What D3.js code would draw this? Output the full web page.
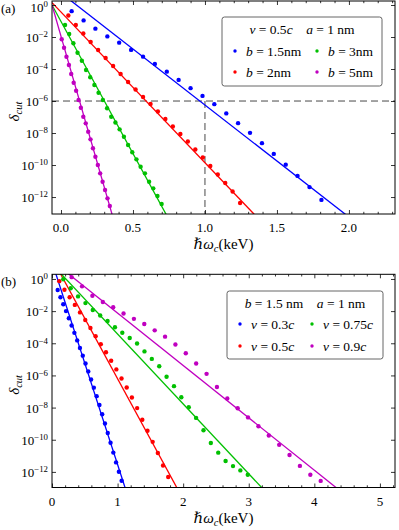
<!DOCTYPE html>
<html><head><meta charset="utf-8">
<script src="https://cdn.jsdelivr.net/npm/d3@7"></script>
<style>
body{margin:0;background:#fff}
svg{display:block}
text{font-family:"Liberation Serif","DejaVu Serif",serif;fill:#000}
</style>
</head><body>
<svg id="chart" width="399" height="530"></svg>
<script>
// ---------- Panel (a): v = 0.5c, a = 1 nm ----------
const aXTicks = [0, 0.5, 1.0, 1.5, 2.0];
const aXTickLabels = ["0.0", "0.5", "1.0", "1.5", "2.0"];
const aXMinor = [0.1,0.2,0.3,0.4,0.6,0.7,0.8,0.9,1.1,1.2,1.3,1.4,1.6,1.7,1.8,1.9,2.1,2.2,2.3];
const yTickExps = [0, -2, -4, -6, -8, -10, -12];
const aLegendTitle = [["v",1],[" = 0.5",0],["c",1],["    ",0],["a",1],[" = 1 nm",0]];
const aLegendLabels = [
  [["b",1],[" = 1.5nm",0]],
  [["b",1],[" = 2nm",0]],
  [["b",1],[" = 3nm",0]],
  [["b",1],[" = 5nm",0]]
];
// dots (x in keV, log10 of delta_cut)
const aBlueX = [0.074,0.157,0.239,0.322,0.404,0.487,0.570,0.652,0.735,0.817,0.900,0.983,1.065,1.148,1.230,1.313,1.396,1.478,1.561,1.643,1.726,1.809];
const aBlueLog = [-0.385,-0.963,-1.479,-1.963,-2.353,-2.806,-3.228,-3.681,-4.165,-4.681,-5.196,-5.68,-6.196,-6.774,-7.383,-7.99,-8.633,-9.305,-9.977,-10.68,-11.38,-12.18];
const aRedX = [0.051,0.103,0.155,0.206,0.258,0.310,0.362,0.414,0.466,0.518,0.570,0.622,0.673,0.725,0.777,0.829,0.881,0.933,0.985,1.037,1.089,1.141,1.192,1.244];
const aRedLog = [-0.656,-1.25,-1.781,-2.3125,-2.8125,-3.3125,-3.8125,-4.3125,-4.8125,-5.281,-5.75,-6.1875,-6.656,-7.125,-7.594,-8.0625,-8.531,-9.031,-9.531,-10.0625,-10.594,-11.125,-11.656,-12.375];
const aGreenX = [0.028,0.057,0.086,0.115,0.145,0.174,0.203,0.232,0.261,0.291,0.320,0.349,0.378,0.407,0.437,0.466,0.495,0.524,0.553,0.583,0.612,0.641,0.670,0.699];
const aGreenLog = [-1.25,-1.8125,-2.394,-2.981,-3.481,-4.0625,-4.519,-5.0,-5.481,-5.9375,-6.456,-6.981,-7.344,-7.769,-8.231,-8.75,-9.206,-9.644,-10.106,-10.519,-11.044,-11.456,-11.9375,-12.4375];
const aMagX = [0.005,0.021,0.038,0.055,0.071,0.088,0.105,0.122,0.138,0.155,0.172,0.189,0.205,0.222,0.239,0.256,0.272,0.289,0.306,0.323,0.339];
const aMagLog = [-2.144,-2.669,-3.231,-3.75,-4.3125,-4.856,-5.356,-5.9375,-6.419,-6.981,-7.394,-7.919,-8.394,-8.956,-9.481,-10.0,-10.519,-11.044,-11.5625,-12.081,-12.56];
// fitted lines (end points, x in keV, log10 delta)
const aBlueLineX = [0, 2.0],       aBlueLineLog = [0.75, -13.25];
const aRedLineX = [-0.0625, 1.342], aRedLineLog = [0.15, -13.08];
const aGreenLineX = [-0.0625, 0.75], aGreenLineLog = [0, -13.41];
const aMagLineX = [-0.0625, 0.37],  aMagLineLog = [0, -13.56];
const aCutX = 1.0, aCutLog = -6;

// ---------- Panel (b): b = 1.5 nm, a = 1 nm ----------
const bXTicks = [0, 1, 2, 3, 4, 5];
const bXTickLabels = ["0", "1", "2", "3", "4", "5"];
const bXMinor = [0.2,0.4,0.6,0.8,1.2,1.4,1.6,1.8,2.2,2.4,2.6,2.8,3.2,3.4,3.6,3.8,4.2,4.4,4.6,4.8,5.2];
const bLegendTitle = [["b",1],[" = 1.5 nm",0],["    ",0],["a",1],[" = 1 nm",0]];
const bLegendLabels = [
  [["v",1],[" = 0.3",0],["c",1]],
  [["v",1],[" = 0.5",0],["c",1]],
  [["v",1],[" = 0.75",0],["c",1]],
  [["v",1],[" = 0.9",0],["c",1]]
];
const bBlueX = [0.087,0.129,0.172,0.214,0.257,0.299,0.341,0.384,0.426,0.469,0.511,0.553,0.596,0.638,0.681,0.723,0.765,0.808,0.850,0.893,0.935,0.977,1.020,1.062];
const bBlueLog = [-0.69,-1.14,-1.57,-2.0,-2.44,-2.89,-3.35,-3.82,-4.29,-4.77,-5.26,-5.75,-6.25,-6.76,-7.29,-7.84,-8.41,-8.99,-9.58,-10.19,-10.8,-11.41,-11.99,-12.55];
const bRedX = [0.111,0.190,0.269,0.348,0.427,0.507,0.586,0.665,0.744,0.823,0.902,0.981,1.060,1.139,1.218,1.298,1.377,1.456,1.535,1.614,1.693,1.772];
const bRedLog = [-0.137,-0.673,-1.14,-1.614,-2.081,-2.555,-3.053,-3.558,-4.062,-4.561,-5.09,-5.626,-6.187,-6.754,-7.377,-8.031,-8.754,-9.445,-10.131,-10.822,-11.601,-12.318];
const bGreenX = [0.172,0.285,0.397,0.510,0.622,0.735,0.847,0.960,1.072,1.185,1.297,1.410,1.522,1.635,1.747,1.860,1.972,2.085,2.197,2.310,2.422,2.535,2.647,2.760,2.872,2.985];
const bGreenLog = [-0.019,-0.579,-1.084,-1.502,-1.931,-2.274,-2.611,-3.003,-3.346,-3.676,-4.012,-4.505,-4.972,-5.433,-6.081,-6.667,-7.358,-7.981,-8.642,-9.408,-10.199,-10.804,-11.321,-11.639,-11.907,-12.174];
const bMagX = [0.300,0.458,0.616,0.775,0.933,1.091,1.249,1.407,1.566,1.724,1.882,2.040,2.198,2.357,2.515,2.673,2.831,2.989,3.148,3.306,3.464,3.622,3.780,3.939,4.097];
const bMagLog = [0.112,-0.461,-1.041,-1.433,-1.757,-2.150,-2.480,-2.804,-3.196,-3.589,-4.075,-4.617,-5.259,-5.900,-6.723,-7.427,-8.037,-8.610,-9.159,-9.738,-10.318,-10.953,-11.626,-12.174,-12.561];
const bBlueLineX = [0, 1.15],  bBlueLineLog = [1.06, -13.43];
const bRedLineX = [0, 1.95],   bRedLineLog = [1.295, -13.33];
const bGreenLineX = [0, 3.25], bGreenLineLog = [0.92, -13.20];
const bMagLineX = [0, 4.4],    bMagLineLog = [1.134, -13.197];

const colors = ["#0000ff", "#ff0000", "#00c000", "#c000c0"];

const svg = d3.select("#chart");

function mathText(sel, parts) {
  parts.forEach(([t, it]) => {
    sel.append("tspan").attr("font-style", it ? "italic" : "normal").text(t);
  });
}

function panel(cfg, idx) {
  const L = 52, R = 395, T = cfg.top, B = cfg.bottom;
  const x = d3.scaleLinear().domain(cfg.xDom).range([L, R]);
  const y = d3.scaleLog().domain([Math.pow(10, cfg.yLo), Math.pow(10, cfg.yHi)]).range([B, T]);
  const g = svg.append("g");
  const clipId = "clip" + idx;
  g.append("clipPath").attr("id", clipId).append("rect")
    .attr("x", L).attr("y", T).attr("width", R - L).attr("height", B - T);

  const plot = g.append("g").attr("clip-path", `url(#${clipId})`);

  if (cfg.cut) {
    plot.append("line")
      .attr("x1", L).attr("x2", R)
      .attr("y1", y(Math.pow(10, cfg.cut.log))).attr("y2", y(Math.pow(10, cfg.cut.log)))
      .attr("stroke", "#333").attr("stroke-width", 0.9).attr("stroke-dasharray", "7,4");
    plot.append("line")
      .attr("x1", x(cfg.cut.x)).attr("x2", x(cfg.cut.x))
      .attr("y1", y(Math.pow(10, cfg.cut.log))).attr("y2", B)
      .attr("stroke", "#333").attr("stroke-width", 0.9).attr("stroke-dasharray", "7,4");
  }

  const line = d3.line().x(d => x(d[0])).y(d => y(Math.pow(10, d[1])));
  cfg.series.forEach((s, i) => {
    plot.append("path")
      .datum(d3.zip(s.lx, s.ll))
      .attr("d", line).attr("fill", "none")
      .attr("stroke", colors[i]).attr("stroke-width", 1.3);
  });
  cfg.series.forEach((s, i) => {
    plot.selectAll(null).data(d3.zip(s.x, s.l)).enter().append("circle")
      .attr("cx", d => x(d[0])).attr("cy", d => y(Math.pow(10, d[1])))
      .attr("r", 2.2).attr("fill", colors[i]);
  });

  // axes (ticks inward on all sides)
  const tickStyle = sel => {
    sel.select(".domain").remove();
    sel.selectAll(".tick line").attr("stroke", "#000").attr("stroke-width", 0.8);
  };
  g.append("g").attr("transform", `translate(0,${B})`)
    .call(d3.axisBottom(x).tickValues(cfg.xTicks).tickSize(-4).tickFormat("")).call(tickStyle);
  g.append("g").attr("transform", `translate(0,${B})`)
    .call(d3.axisBottom(x).tickValues(cfg.xMinor).tickSize(-2.2).tickFormat("")).call(tickStyle);
  g.append("g").attr("transform", `translate(0,${T})`)
    .call(d3.axisTop(x).tickValues(cfg.xTicks).tickSize(-4).tickFormat("")).call(tickStyle);
  g.append("g").attr("transform", `translate(0,${T})`)
    .call(d3.axisTop(x).tickValues(cfg.xMinor).tickSize(-2.2).tickFormat("")).call(tickStyle);
  const yTickVals = yTickExps.map(e => Math.pow(10, e));
  g.append("g").attr("transform", `translate(${L},0)`)
    .call(d3.axisLeft(y).tickValues(yTickVals).tickSize(-4).tickFormat("")).call(tickStyle);
  g.append("g").attr("transform", `translate(${R},0)`)
    .call(d3.axisRight(y).tickValues(yTickVals).tickSize(-4).tickFormat("")).call(tickStyle);

  g.append("rect").attr("x", L).attr("y", T).attr("width", R - L).attr("height", B - T)
    .attr("fill", "none").attr("stroke", "#000").attr("stroke-width", 1);

  // tick labels
  cfg.xTicks.forEach((v, i) => {
    g.append("text").attr("x", x(v)).attr("y", B + 18).attr("text-anchor", "middle")
      .attr("font-size", 13).text(cfg.xTickLabels[i]);
  });
  yTickExps.forEach(e => {
    const base = Math.max(y(Math.pow(10, e)) + 5, 11.5);
    const t = g.append("text").attr("x", L - 4).attr("y", base)
      .attr("text-anchor", "end").attr("font-size", 13);
    t.append("tspan").text("10");
    t.append("tspan").attr("dy", -4.6).attr("font-size", 8.8).text(e === 0 ? "0" : "\u2212" + Math.abs(e));
  });

  // axis titles
  const xl = g.append("text").attr("x", (L + R) / 2).attr("y", B + 35)
    .attr("text-anchor", "middle").attr("font-size", 15);
  xl.append("tspan").text("\u210F");
  xl.append("tspan").attr("font-style", "italic").text("\u03C9");
  xl.append("tspan").attr("font-style", "italic").attr("font-size", 10.5).attr("dy", 3).text("c");
  xl.append("tspan").attr("dy", -3).text("(keV)");

  const yl = g.append("text")
    .attr("transform", `translate(${19},${(T + B) / 2 + 4}) rotate(-90)`)
    .attr("text-anchor", "middle").attr("font-size", 15);
  yl.append("tspan").attr("font-style", "italic").text("\u03B4");
  yl.append("tspan").attr("font-style", "italic").attr("font-size", 10.5).attr("dy", 3).text("cut");

  g.append("text").attr("x", 1).attr("y", T + 12).attr("font-size", 13).text(cfg.tag);

  // legend
  const lg = cfg.legend;
  g.append("rect").attr("x", lg.x).attr("y", lg.y).attr("width", lg.w).attr("height", lg.h)
    .attr("rx", 2.5).attr("fill", "#fff").attr("stroke", "#555").attr("stroke-width", 0.9);
  mathText(g.append("text").attr("x", lg.x + lg.w / 2).attr("y", lg.y + 17)
    .attr("text-anchor", "middle").attr("font-size", 13.5).attr("xml:space", "preserve"), lg.title);
  lg.labels.forEach((parts, i) => {
    const col = i < 2 ? 0 : 1;
    const row = i % 2;
    const mx = lg.x + lg.markerX[col];
    const my = lg.y + lg.rowY[row];
    g.append("circle").attr("cx", mx).attr("cy", my).attr("r", 1.7).attr("fill", colors[i]);
    mathText(g.append("text").attr("x", mx + 11).attr("y", my + 4.5).attr("font-size", 13.5), parts);
  });
}

// order of entries: col1 = blue, red ; col2 = green, magenta
panel({
  top: 1, bottom: 214, xDom: [-0.0625, 2.32], yLo: -13.06, yHi: 0.25,
  xTicks: aXTicks, xTickLabels: aXTickLabels, xMinor: aXMinor, tag: "(a)",
  cut: {x: aCutX, log: aCutLog},
  series: [
    {x: aBlueX, l: aBlueLog, lx: aBlueLineX, ll: aBlueLineLog},
    {x: aRedX, l: aRedLog, lx: aRedLineX, ll: aRedLineLog},
    {x: aGreenX, l: aGreenLog, lx: aGreenLineX, ll: aGreenLineLog},
    {x: aMagX, l: aMagLog, lx: aMagLineX, ll: aMagLineLog}
  ],
  legend: {x: 222, y: 17, w: 160, h: 69, title: aLegendTitle,
           labels: aLegendLabels, markerX: [13, 95], rowY: [34, 55]}
}, 0);

panel({
  top: 274.3, bottom: 487.5, xDom: [0, 5.23], yLo: -12.97, yHi: 0.29,
  xTicks: bXTicks, xTickLabels: bXTickLabels, xMinor: bXMinor, tag: "(b)",
  series: [
    {x: bBlueX, l: bBlueLog, lx: bBlueLineX, ll: bBlueLineLog},
    {x: bRedX, l: bRedLog, lx: bRedLineX, ll: bRedLineLog},
    {x: bGreenX, l: bGreenLog, lx: bGreenLineX, ll: bGreenLineLog},
    {x: bMagX, l: bMagLog, lx: bMagLineX, ll: bMagLineLog}
  ],
  legend: {x: 227, y: 291, w: 156, h: 68, title: bLegendTitle,
           labels: bLegendLabels, markerX: [13, 85], rowY: [33, 55]}
}, 1);
</script>
</body></html>
